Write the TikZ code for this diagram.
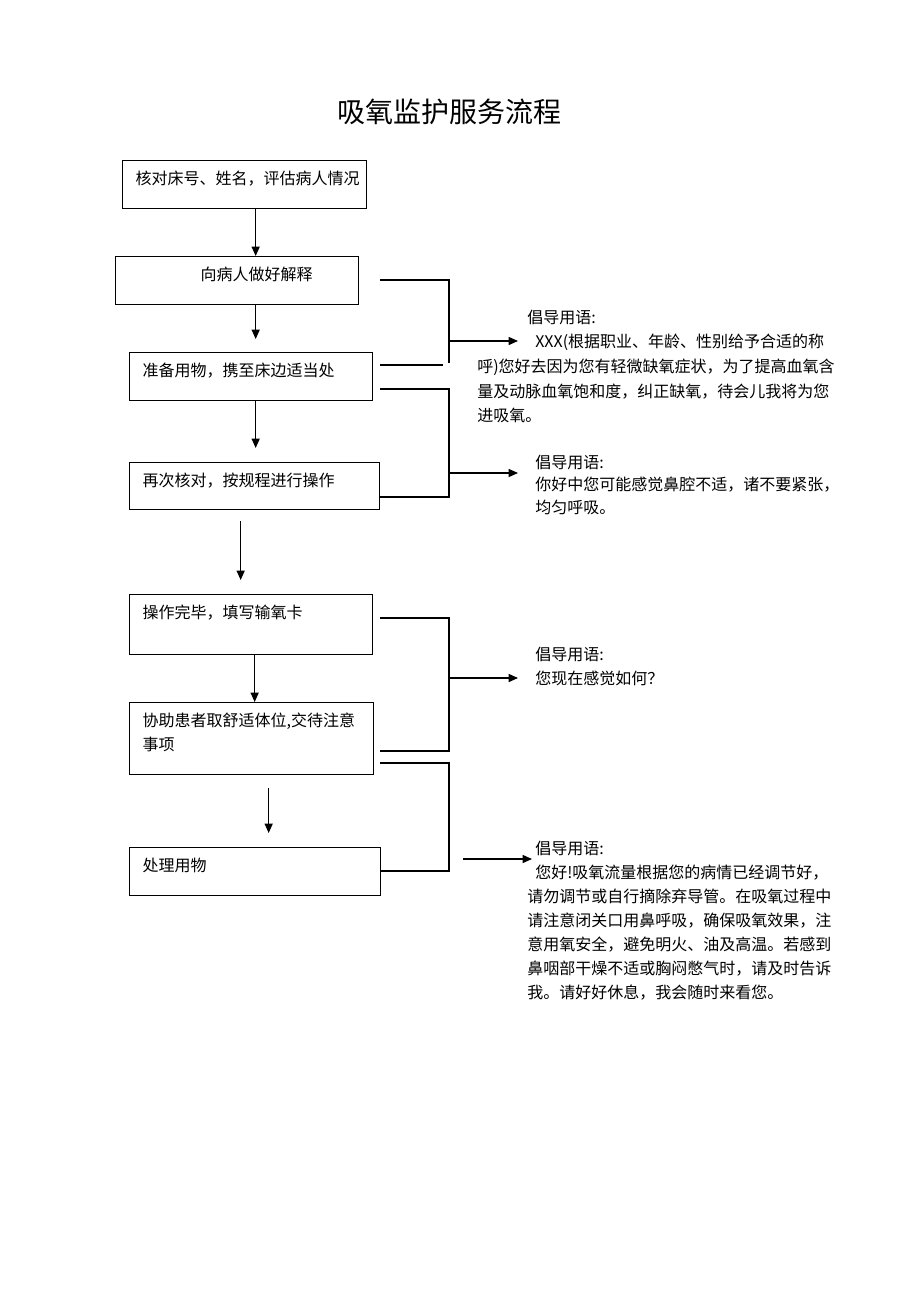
\documentclass[tikz,border=0pt]{standalone}
\usepackage{fontspec}
\setmainfont{Noto Sans CJK SC}
\usetikzlibrary{arrows.meta}
\usetikzlibrary{positioning}

\begin{document}
\begin{tikzpicture}[x=0.75pt,y=-0.75pt,
  stepbox/.style={draw,line width=1pt,anchor=north west,align=left,
    inner xsep=9.75pt,inner ysep=6pt,text height=12pt,
    font=\fontsize{12pt}{18pt}\selectfont},
  link/.style={line width=1pt},
  flow/.style={line width=1pt,-{Triangle[length=7pt,width=6pt]}},
  talk/.style={anchor=north west,align=left,inner sep=0pt,
    font=\fontsize{12pt}{18pt}\selectfont}]

  \useasboundingbox (0,0) rectangle (920,1302);

  % title
  \node[font=\fontsize{21pt}{25pt}\selectfont] (title) at (449,112) {吸氧监护服务流程};

  % steps on the left
  \node[stepbox,text width=163.5pt,text depth=12pt] (check) at (122,160) {核对床号、姓名，评估病人情况};
  \node[stepbox,text width=162.75pt,text depth=12pt] (explain) at (115,256) {\hspace*{54pt}向病人做好解释};
  \node[stepbox,text width=162.75pt,text depth=12pt] (prepare) at (129,352) {准备用物，携至床边适当处};
  \node[stepbox,text width=168pt,text depth=11.25pt] (recheck) at (129,462) {再次核对，按规程进行操作};
  \node[stepbox,text width=162.75pt,text depth=21pt] (finish) at (129,594) {操作完毕，填写输氧卡};
  \node[stepbox,text width=163.5pt,text depth=30pt] (assist) at (129,702) {协助患者取舒适体位,交待注意\\事项};
  \node[stepbox,text width=168.75pt,text depth=12pt] (clear) at (129,847) {处理用物};

  \draw[flow] ([xshift=8.25pt]check.south) -- ([xshift=8.25pt]check.south |- explain.north);
  \draw[flow,shorten >=9.75pt] ([xshift=13.875pt]explain.south) -- ([xshift=13.875pt]explain.south |- prepare.north);
  \draw[flow,shorten >=10.5pt] ([xshift=3.375pt]prepare.south) -- ([xshift=3.375pt]prepare.south |- recheck.north);
  \draw[flow,shorten <=8.25pt,shorten >=10.5pt] ([xshift=-10.5pt]recheck.south) -- ([xshift=-10.5pt]recheck.south |- finish.north);
  \draw[flow] ([xshift=2.625pt]finish.south) -- ([xshift=2.625pt]finish.south |- assist.north);
  \draw[flow,shorten <=9.75pt,shorten >=10.5pt] ([xshift=12.75pt]assist.south) -- ([xshift=12.75pt]assist.south |- clear.north);

  % brackets on the right
  \coordinate (k1a) at (380,280);
  \coordinate (k1b) at (449,363);
  \coordinate (k1c) at (380,365);
  \coordinate (k1d) at (443,365);
  \coordinate (j1) at (449,341);
  \coordinate (e1) at (518,341);
  \draw[link] (k1a) -| (k1b);
  \draw[link] (k1c) -- (k1d);
  \draw[flow] (j1) -- (e1);

  \coordinate (k2a) at (380,389);
  \coordinate (k2b) at (380,497);
  \coordinate (j2) at (449,473);
  \coordinate (e2) at (518,473);
  \draw[link] (k2a) -- ++(69,0) |- (k2b);
  \draw[flow] (j2) -- (e2);

  \coordinate (k3a) at (380,618);
  \coordinate (k3b) at (380,751);
  \coordinate (j3) at (449,678);
  \coordinate (e3) at (518,678);
  \draw[link] (k3a) -- ++(69,0) |- (k3b);
  \draw[flow] (j3) -- (e3);

  \coordinate (k4a) at (380,763);
  \coordinate (k4b) at (380,871);
  \coordinate (j4) at (463,859);
  \coordinate (e4) at (532,859);
  \draw[link] (k4a) -- ++(69,0) |- (k4b);
  \draw[flow] (j4) -- (e4);

  % what to say
  \node[talk,font=\fontsize{12pt}{18.5pt}\selectfont] (say1) at (477,309.5) {\hspace*{37.5pt}倡导用语:\\
    \hspace*{43.5pt}XXX(根据职业、年龄、性别给予合适的称\\
    呼)您好去因为您有轻微缺氧症状，为了提高血氧含\\
    量及动脉血氧饱和度，纠正缺氧，待会儿我将为您\\
    进吸氧。};
  \node[talk,font=\fontsize{12pt}{17pt}\selectfont] (say2) at (535,454.5) {倡导用语:\\
    你好中您可能感觉鼻腔不适，诸不要紧张，\\
    均匀呼吸。};
  \node[talk] (say3) at (535,646.5) {倡导用语:\\
    您现在感觉如何？};
  \node[talk] (say4) at (527,840.5) {\hspace*{6pt}倡导用语:\\
    \hspace*{6pt}您好!吸氧流量根据您的病情已经调节好，\\
    请勿调节或自行摘除弃导管。在吸氧过程中\\
    请注意闭关口用鼻呼吸，确保吸氧效果，注\\
    意用氧安全，避免明火、油及高温。若感到\\
    鼻咽部干燥不适或胸闷憋气时，请及时告诉\\
    我。请好好休息，我会随时来看您。};

\end{tikzpicture}
\end{document}
